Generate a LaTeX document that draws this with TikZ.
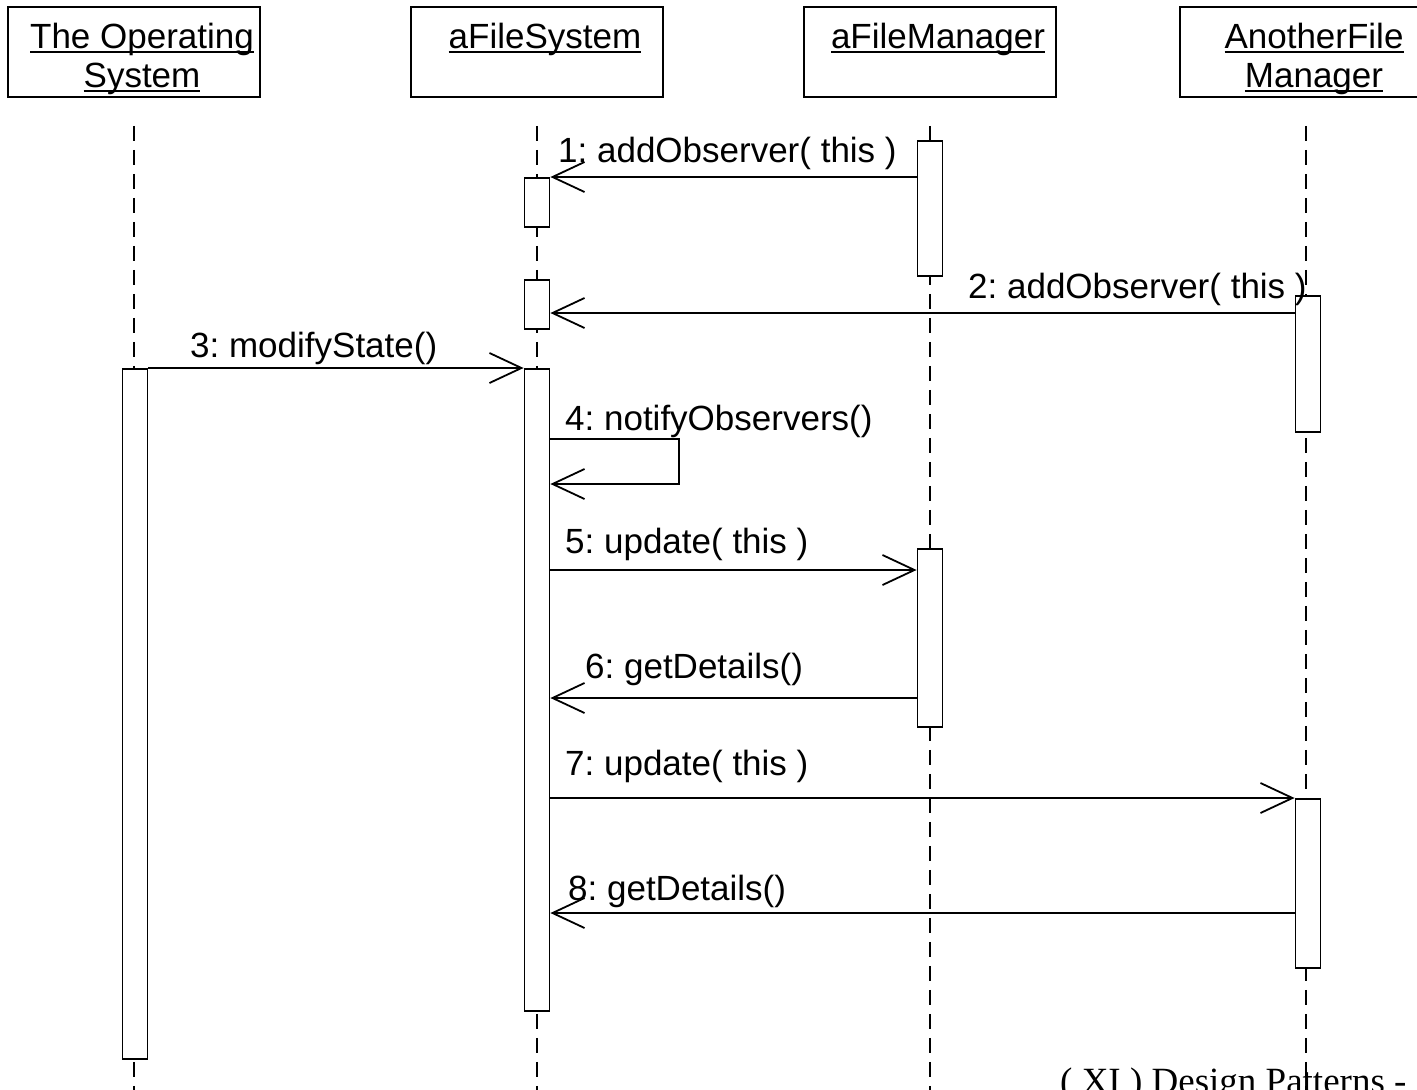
\documentclass[tikz,border=0pt]{standalone}
\usepackage{fontspec}
\setmainfont{Liberation Sans}
\newfontfamily\seriffont{Liberation Serif}
\usetikzlibrary{arrows.meta}
\frenchspacing

\newsavebox\ulbox
\newcommand{\uln}[1]{\sbox\ulbox{#1}\rlap{\rule[-5pt]{\wd\ulbox}{1.8pt}}\usebox\ulbox}
\newcommand{\hdtwo}[2]{\rule{0pt}{39pt}\hspace*{16pt}\uln{#1}\\\hspace*{16pt}\uln{#2}\rule[-8pt]{0pt}{8pt}}
\newcommand{\hdone}[1]{\rule{0pt}{39pt}\hspace*{16pt}\uln{#1}\\\rule[-8pt]{0pt}{8pt}}

\tikzset{
 head/.style={draw, line width=1.8pt, minimum width=252pt, minimum height=90pt, inner xsep=0pt, inner ysep=2pt, align=center},
 act/.style={draw, fill=white, line width=1.8pt, minimum width=25pt, inner sep=0pt, anchor=north},
 lifeline/.style={line width=1.5pt, dash pattern=on 15pt off 9pt},
 msg/.style={line width=1.5pt, -{Straight Barb[length=32pt,width=30pt,line width=1.8pt]}},
 lab/.style={anchor=base west, inner sep=0pt}
}

\begin{document}
\begin{tikzpicture}[x=1pt, y=-1pt, font=\fontsize{35}{39}\selectfont]
\useasboundingbox (0,0) rectangle (1417,1090);
% objects
\node[head] (os) at (134,52) {\hdtwo{The Operating}{System}};
\node[head] (fs) at (537,52) {\hdone{aFileSystem}};
\node[head] (fm) at (930,52) {\hdone{aFileManager}};
\node[head] (afm) at (1306,52) {\hdtwo{AnotherFile}{Manager}};
\foreach \n in {os,fs,fm,afm}
 \draw[lifeline] ([yshift=-28pt]\n.south) -- (\n.south |- 0,1090);
% activations
\node[act, minimum height=49pt] (fs1) at (537,177) {};
\node[act, minimum height=49pt] (fs2) at (537,279) {};
\node[act, minimum height=642pt] (fs3) at (537,368) {};
\node[act, minimum height=135pt] (fm1) at (930,140) {};
\node[act, minimum height=178pt] (fm2) at (930,548) {};
\node[act, minimum height=136pt] (afm1) at (1308,295) {};
\node[act, minimum height=169pt] (afm2) at (1308,798) {};
\node[act, minimum height=690pt] (os1) at (135,368) {};
% messages
\draw[msg] (fm1.west |- 0,177) -- (fs1.north east);
\draw[msg] (afm1.west |- 0,313) -- (fs2.east |- 0,313);
\draw[msg] (os1.north east) -- (fs3.north west);
\draw[msg] (fs3.east |- 0,439) -| (679,484) -- (fs3.east |- 0,484);
\draw[msg] (fs3.east |- 0,570) -- (fm2.west |- 0,570);
\draw[msg] (fm2.west |- 0,698) -- (fs3.east |- 0,698);
\draw[msg] (fs3.east |- 0,798) -- (afm2.north west);
\draw[msg] (afm2.west |- 0,913) -- (fs3.east |- 0,913);
\node[lab] (lab1) at (558,162) {1: addObserver( this )};
\node[lab] (lab2) at (968,298) {2: addObserver( this )};
\node[lab] (lab3) at (190,357) {3: modifyState()};
\node[lab] (lab4) at (565,430) {4: notifyObservers()};
\node[lab] (lab5) at (565,553) {5: update( this )};
\node[lab] (lab6) at (585,678) {6: getDetails()};
\node[lab] (lab7) at (565,775) {7: update( this )};
\node[lab] (lab8) at (568,900) {8: getDetails()};
% footer
\node[lab, font=\seriffont\fontsize{37}{40}\selectfont] (foot) at (1060,1093) {( XI ) Design Patterns -};
\end{tikzpicture}
\end{document}
